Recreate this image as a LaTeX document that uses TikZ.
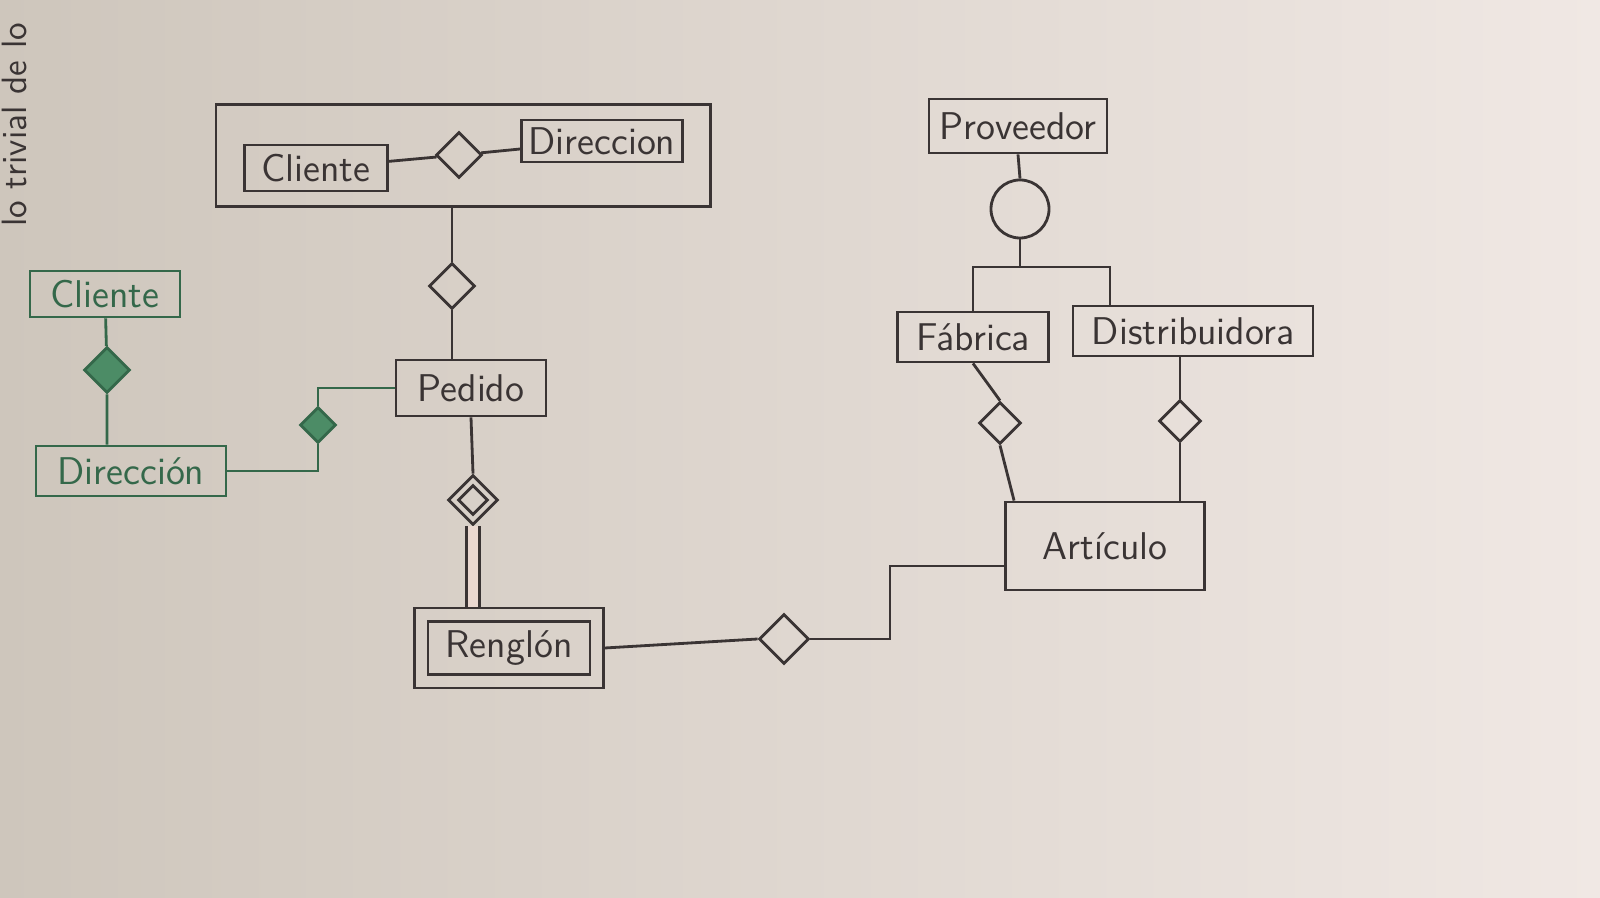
\documentclass[tikz,border=0pt]{standalone}
\usepackage{xcolor}
\usepackage{tikz}
\usetikzlibrary{shapes.geometric,fit}
\definecolor{papel}{RGB}{234,216,208}
\definecolor{papelizq}{RGB}{206,198,188}
\definecolor{papelder}{RGB}{240,232,228}
\definecolor{lapiz}{RGB}{58,52,52}
\definecolor{verde}{RGB}{52,104,74}
\definecolor{verdeclaro}{RGB}{76,140,102}
\tikzset{
  entidad/.style={draw=lapiz,line width=0.8pt,inner sep=2pt,text=lapiz},
  rombo/.style={draw=lapiz,line width=0.8pt,diamond,aspect=1,minimum size=0.46cm,inner sep=0pt},
  linea/.style={draw=lapiz,line width=0.8pt},
  verdes/.style={draw=verde,text=verde}
}

\begin{document}
\begin{tikzpicture}[x=0.01cm,y=-0.01cm,font=\sffamily\fontsize{11}{13}\selectfont]
  \shade[left color=papelizq,middle color=papel,right color=papelder] (0,0) rectangle (1600,898);
  \useasboundingbox (0,0) rectangle (1600,898);
  \node[rotate=90,text=lapiz,font=\sffamily\fontsize{10}{12}\selectfont] (nota) at (14,125) {lo trivial de lo};

  \node[entidad,minimum width=1.43cm,minimum height=0.46cm] (cliente1) at (316,168) {Cliente};
  \node[rombo] (tiene) at (459,155) {};
  \node[entidad,minimum width=1.53cm,minimum height=0.42cm] (direccion1) at (602,141) {Direccion};
  \node[draw=lapiz,line width=0.8pt,fit=(cliente1)(direccion1),inner xsep=0.27cm,inner ysep=0.14cm] (agregado) {};
  \draw[linea] (cliente1) -- (tiene) -- (direccion1);

  \node[rombo] (hace) at (452,286) {};
  \node[entidad,minimum width=1.5cm,minimum height=0.56cm] (pedido) at (471,388) {Pedido};
  \draw[linea] (hace.north) -- (hace |- agregado.south);
  \draw[linea] (hace.south) -- (hace |- pedido.north);

  \node[entidad,verdes,minimum width=1.5cm,minimum height=0.46cm] (cliente2) at (105,294) {Cliente};
  \node[rombo,verdes,fill=verdeclaro] (vive) at (107,370) {};
  \node[entidad,verdes,minimum width=1.9cm,minimum height=0.5cm] (direccion2) at (131,471) {Dirección};
  \node[rombo,verdes,fill=verdeclaro,minimum size=0.36cm] (envia) at (318,425) {};
  \draw[linea,draw=verde] (cliente2) -- (vive) -- (vive |- direccion2.north);
  \draw[linea,draw=verde] (direccion2.east) -| (envia.south) (envia.north) |- (pedido.west);

  \node[rombo,minimum size=0.5cm] (contiene) at (473,500) {};
  \node[rombo,minimum size=0.3cm] (contieneint) at (contiene) {};
  \node[entidad,minimum width=1.62cm,minimum height=0.53cm] (renglon) at (509,648) {Renglón};
  \node[draw=lapiz,line width=0.8pt,fit=(renglon),inner sep=0.12cm] (renglonext) {};
  \draw[linea] (pedido.south) -- (contiene.north);
  \draw[linea,double=papel,double distance=3pt] (contiene.south) -- (contiene |- renglonext.north);

  \node[rombo,minimum size=0.5cm] (incluye) at (784,639) {};
  \node[entidad,minimum width=1.99cm,minimum height=0.88cm] (articulo) at (1105,546) {Artículo};
  \coordinate (codo) at (890,566);
  \draw[linea] (renglonext.east) -- (incluye.west);
  \draw[linea] (incluye.east) -| (codo) -- (codo -| articulo.west);

  \node[entidad,minimum width=1.78cm,minimum height=0.54cm] (proveedor) at (1018,126) {Proveedor};
  \node[draw=lapiz,line width=0.8pt,circle,minimum size=0.58cm] (isa) at (1020,209) {};
  \node[entidad,minimum width=1.51cm,minimum height=0.5cm] (fabrica) at (973,337) {Fábrica};
  \node[entidad,minimum width=2.4cm,minimum height=0.5cm] (distribuidora) at (1193,331) {Distribuidora};
  \coordinate (barraizq) at (973,267);
  \coordinate (barrader) at (1110,267);
  \draw[linea] (proveedor.south) -- (isa.north);
  \draw[linea] (isa.south) -- (isa.south |- barraizq);
  \draw[linea] (fabrica.north) -- (barraizq) -- (barrader) -- (barrader |- distribuidora.north);

  \node[rombo,minimum size=0.42cm] (fabrica_a) at (1000,423) {};
  \node[rombo,minimum size=0.42cm] (distrib_a) at (1180,421) {};
  \draw[linea] (fabrica.south) -- (fabrica_a.north);
  \draw[linea] (fabrica_a.south) -- ([xshift=0.1cm]articulo.north west);
  \draw[linea] (distrib_a.north) -- (distrib_a |- distribuidora.south);
  \draw[linea] (distrib_a.south) -- (distrib_a |- articulo.north);
\end{tikzpicture}
\end{document}
